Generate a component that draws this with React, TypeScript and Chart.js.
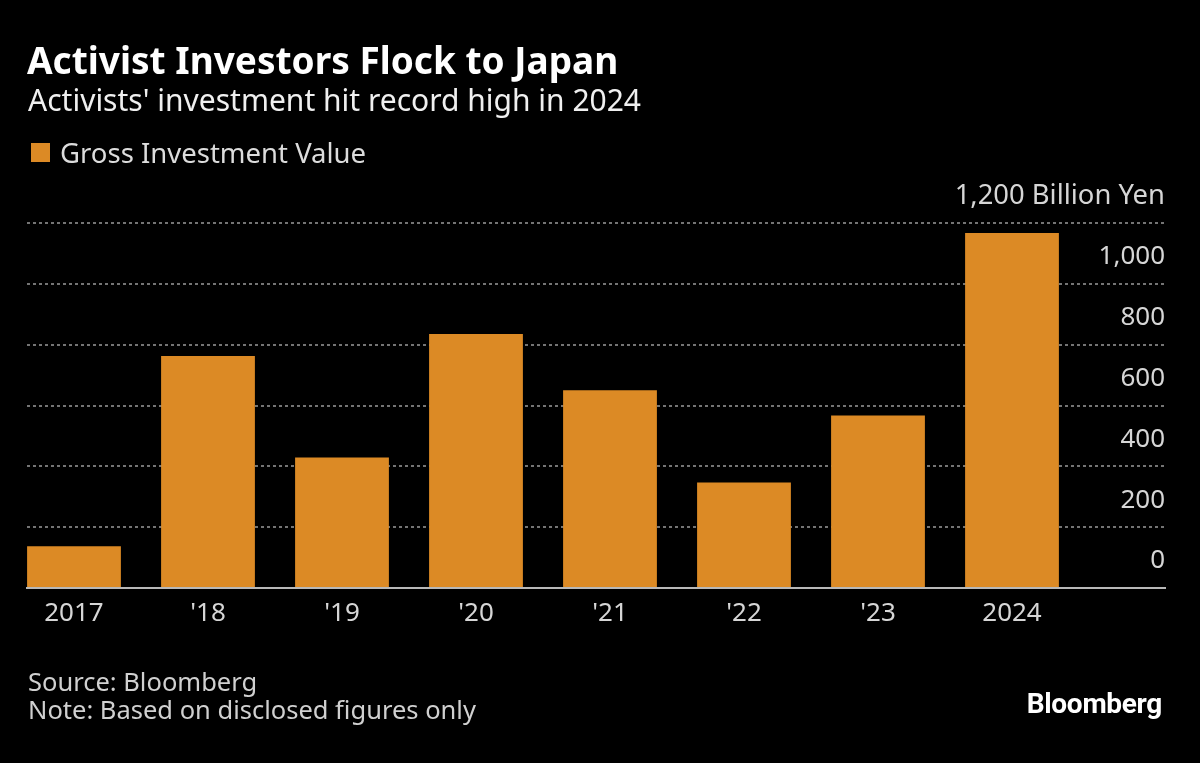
import React, { useEffect, useRef } from "react";
import { Chart, registerables } from "chart.js";

Chart.register(...registerables);

const categories = ["2017", "'18", "'19", "'20", "'21", "'22", "'23", "2024"];
const grossInvestment = [137, 763, 429, 835, 650, 347, 567, 1167];
const yTickValues = [0, 200, 400, 600, 800, 1000, 1200];
const yTickLabels = ["0", "200", "400", "600", "800", "1,000", "1,200 Billion Yen"];

const FONT = '"Noto Sans", sans-serif';
const BAR_COLOR = "#DC8A25";

const yLabelPlugin = {
  id: "yLabels",
  afterDraw(chart: any) {
    const { ctx, chartArea, scales } = chart;
    const y = scales.y;
    ctx.save();
    ctx.fillStyle = "#d6d6d6";
    ctx.textAlign = "right";
    ctx.textBaseline = "middle";
    yTickValues.forEach((v, i) => {
      ctx.font = `${i === yTickValues.length - 1 ? 27.4 : 26}px ${FONT}`;
      ctx.fillText(yTickLabels[i], chartArea.right, y.getPixelForValue(v) - 27);
    });
    ctx.restore();
  },
};

export default function App() {
  const ref = useRef<HTMLCanvasElement>(null);
  useEffect(() => {
    if (!ref.current) return;
    Chart.defaults.font.family = FONT;
    const chart = new Chart(ref.current, {
      type: "bar",
      data: {
        datasets: [
          {
            label: "Gross Investment Value",
            data: grossInvestment.map((v, i) => ({ x: i, y: v })),
            backgroundColor: BAR_COLOR,
            borderWidth: 0,
            barPercentage: 0.7,
            categoryPercentage: 1,
          },
        ],
      },
      options: {
        responsive: false,
        animation: false,
        layout: { padding: { left: 27, right: 35, top: 223, bottom: 115 } },
        plugins: {
          legend: { display: false },
          tooltip: { enabled: false },
        },
        scales: {
          x: {
            type: "linear",
            offset: false,
            min: -0.3507,
            max: 8.1418,
            afterBuildTicks: (scale: any) => {
              scale.ticks = categories.map((_, i) => ({ value: i }));
            },
            afterFit: (scale: any) => {
              scale.height = 60;
            },
            grid: { display: false, drawTicks: false },
            border: { display: true, color: "#b8b8b8", width: 2 },
            ticks: {
              autoSkip: false,
              maxRotation: 0,
              padding: 10,
              color: "#d6d6d6",
              font: { size: 26, family: FONT },
              callback: (v: any) => categories[v] ?? "",
            },
          },
          y: {
            type: "linear",
            position: "right",
            min: 0,
            max: 1200,
            afterBuildTicks: (scale: any) => {
              scale.ticks = yTickValues.map((v) => ({ value: v }));
            },
            afterFit: (scale: any) => {
              scale.width = 0;
            },
            ticks: { display: false },
            grid: { color: "#747474", lineWidth: 2, drawTicks: false },
            border: { display: false, dash: [3, 3] },
          },
        },
      },
      plugins: [yLabelPlugin],
    });
    return () => chart.destroy();
  }, []);

  const text = (style: React.CSSProperties, content: string) => (
    <div
      style={{
        position: "absolute",
        whiteSpace: "nowrap",
        fontFamily: FONT,
        ...style,
      }}
    >
      {content}
    </div>
  );

  return (
    <div
      style={{
        position: "absolute",
        left: 0,
        top: 0,
        width: 1200,
        height: 763,
        background: "#000",
        overflow: "hidden",
      }}
    >
      <canvas ref={ref} width={1200} height={763} style={{ position: "absolute", left: 0, top: 0 }} />
      {text({ left: 27, top: 36, fontSize: 37, lineHeight: "48px", fontWeight: 700, color: "#fff" }, "Activist Investors Flock to Japan")}
      {text({ left: 28, top: 82, fontSize: 30, lineHeight: "36px", color: "#f0f0f0" }, "Activists' investment hit record high in 2024")}
      <div style={{ position: "absolute", left: 31, top: 143, width: 19, height: 19, background: BAR_COLOR }} />
      {text({ left: 60, top: 136, fontSize: 27.5, lineHeight: "34px", color: "#dcdcdc" }, "Gross Investment Value")}
      {text({ left: 28, top: 666, fontSize: 25.5, lineHeight: "30px", color: "#d0d0d0" }, "Source: Bloomberg")}
      {text({ left: 28, top: 694, fontSize: 25.5, lineHeight: "30px", color: "#d0d0d0" }, "Note: Based on disclosed figures only")}
      <div
        style={{
          position: "absolute",
          right: 38,
          top: 689,
          fontFamily: "Roboto, sans-serif",
          fontWeight: 700,
          fontSize: 28,
          lineHeight: "30px",
          color: "#fff",
          letterSpacing: -0.3,
        }}
      >
        Bloomberg
      </div>
    </div>
  );
}
